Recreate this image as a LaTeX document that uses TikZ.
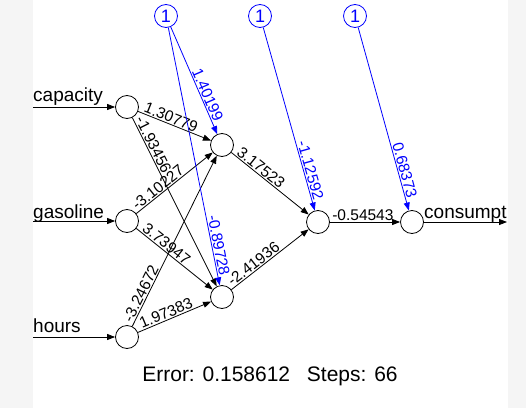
\documentclass[tikz,border=0pt]{standalone}
\usepackage{fontspec}
\setmainfont{Liberation Sans}
\usepackage{tikz}
\usetikzlibrary{arrows.meta, positioning}

\begin{document}
\begin{tikzpicture}[
  x=1pt, y=1pt,
  >={Triangle[length=8pt, width=6pt]},
  neuron/.style={circle, draw=black, fill=white, line width=0.8pt, minimum size=23pt, inner sep=0pt},
  biasnode/.style={neuron, draw=blue, text=blue, font=\fontsize{18}{20}\selectfont},
  edge/.style={->, line width=0.8pt},
  biasedge/.style={edge, draw=blue},
  weight/.style={sloped, above, inner sep=1pt, font=\fontsize{15.5}{17}\selectfont},
  bweight/.style={weight, text=blue},
  varname/.style={anchor=base west, inner sep=0pt, font=\fontsize{19}{22}\selectfont}
]
\useasboundingbox (0,0) rectangle (526,408);
\fill[black!4] (0,0) rectangle (33,408);
\fill[black!4] (508,0) rectangle (526,408);

\node[neuron] (cap) at (127,301) {};
\node[neuron] (gas) at (127,187) {};
\node[neuron] (hrs) at (127,71) {};
\node[neuron] (h1) at (222,263) {};
\node[neuron] (h2) at (222,111) {};
\node[neuron] (hid) at (318,186) {};
\node[neuron] (out) at (412,186) {};
\node[biasnode] (b1) at (166,392) {1};
\node[biasnode] (b2) at (260,392) {1};
\node[biasnode] (b3) at (355,392) {1};

\coordinate (capin) at (33,301);
\coordinate (gasin) at (33,187);
\coordinate (hrsin) at (33,71);
\coordinate (outend) at (507,186);

\node[varname] (capl) at (33,306.5) {capacity};
\node[varname] (gasl) at (33,190) {gasoline};
\node[varname] (hrsl) at (33,76) {hours};
\node[varname] (outl) at (424,190) {consumpt};

\draw[edge] (capin) -- (cap);
\draw[edge] (gasin) -- (gas);
\draw[edge] (hrsin) -- (hrs);
\draw[edge] (out) -- (outend);

\draw[edge] (cap) -- node[weight, pos=.42] {1.30779} (h1);
\draw[edge] (cap) -- node[weight, pos=.18] {-1.93456} (h2);
\draw[edge] (gas) -- node[weight, pos=.34] {-3.10227} (h1);
\draw[edge] (gas) -- node[weight, pos=.34] {3.73947} (h2);
\draw[edge] (hrs) -- node[weight, pos=.175] {-3.24672} (h1);
\draw[edge] (hrs) -- node[weight, pos=.42] {1.97383} (h2);
\draw[edge] (h1) -- node[weight, pos=.33] {3.17523} (hid);
\draw[edge] (h2) -- node[weight, pos=.34] {-2.41936} (hid);
\draw[edge] (hid) -- node[weight, pos=.47] {-0.54543} (out);

\draw[biasedge] (b1) -- node[bweight, pos=.66] {1.40199} (h1);
\draw[biasedge] (b1) -- node[bweight, pos=.85] {-0.89728} (h2);
\draw[biasedge] (b2) -- node[bweight, pos=.79] {-1.12592} (hid);
\draw[biasedge] (b3) -- node[bweight, pos=.79] {0.68373} (out);

\node[font=\fontsize{21}{24}\selectfont] (err) at (270,32) {Error: 0.158612\hspace{0.8em}Steps: 66};
\end{tikzpicture}
\end{document}
